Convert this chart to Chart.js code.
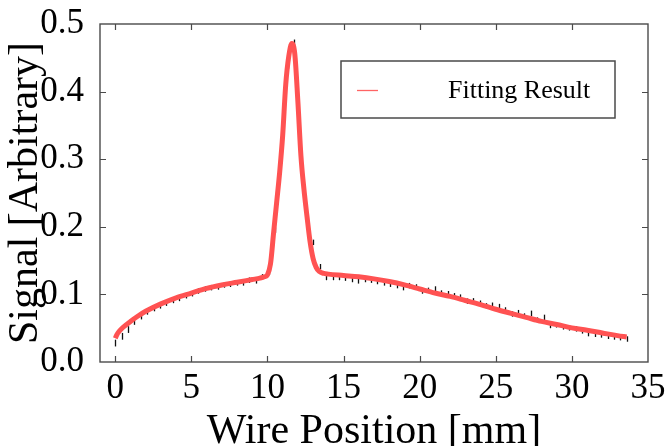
<!DOCTYPE html>
<html>
<head>
<meta charset="utf-8">
<script src="https://cdn.jsdelivr.net/npm/chart.js@4.4.1/dist/chart.umd.min.js"></script>
<style>
  html,body{margin:0;padding:0;background:#fff;}
  #c{display:block;}
</style>
</head>
<body>
<canvas id="c" width="666" height="446"></canvas>
<script>
// measured points (wire position in mm, signal) with error bars
const dataX = [0, 0.42, 0.84, 1.26, 1.68, 2.1, 2.52, 2.94, 3.36, 3.78, 4.2, 4.62, 5.04, 5.46, 5.88, 6.3, 6.72, 7.14, 7.56, 7.98,
  8.4, 8.82, 9.24, 9.66, 10.08, 10.5, 10.92, 11.34, 11.76, 12.18, 12.6, 13.02, 13.44, 13.86, 14.28, 14.7, 15.12, 15.54, 15.96, 16.38,
  16.8, 17.22, 17.64, 18.06, 18.48, 18.9, 19.32, 19.74, 20.16, 20.58, 21.0, 21.42, 21.84, 22.26, 22.68, 23.1, 23.52, 23.94, 24.36, 24.78,
  25.2, 25.62, 26.04, 26.46, 26.88, 27.3, 27.72, 28.14, 28.56, 28.98, 29.4, 29.82, 30.24, 30.66, 31.08, 31.5, 31.92, 32.34, 32.76, 33.18, 33.6];
const dataY = [0.028, 0.038, 0.048, 0.060, 0.068, 0.074, 0.079, 0.083, 0.087, 0.091, 0.094, 0.098, 0.101, 0.105, 0.108, 0.110, 0.111, 0.114, 0.115, 0.117,
  0.117, 0.121, 0.120, 0.126, 0.133, 0.195, 0.297, 0.438, 0.473, 0.305, 0.215, 0.177, 0.141, 0.125, 0.125, 0.125, 0.124, 0.122, 0.120, 0.122,
  0.121, 0.119, 0.117, 0.115, 0.113, 0.110, 0.113, 0.111, 0.105, 0.106, 0.108, 0.102, 0.101, 0.098, 0.096, 0.090, 0.0905, 0.087, 0.083, 0.084,
  0.082, 0.077, 0.071, 0.073, 0.068, 0.072, 0.062, 0.066, 0.054, 0.055, 0.052, 0.0505, 0.049, 0.046, 0.042, 0.041, 0.040, 0.038, 0.037, 0.036, 0.034];
const dataErr = [0.005, 0.005, 0.005, 0.005, 0.005, 0.004, 0.004, 0.004, 0.004, 0.004, 0.004, 0.004, 0.004, 0.004, 0.004, 0.004, 0.004, 0.004, 0.004, 0.004,
  0.004, 0.004, 0.004, 0.004, 0.004, 0.004, 0.004, 0.004, 0.004, 0.004, 0.004, 0.004, 0.004, 0.004, 0.004, 0.004, 0.004, 0.004, 0.004, 0.004,
  0.004, 0.004, 0.004, 0.004, 0.004, 0.004, 0.004, 0.004, 0.004, 0.004, 0.004, 0.004, 0.004, 0.004, 0.004, 0.004, 0.004, 0.004, 0.004, 0.004,
  0.004, 0.004, 0.004, 0.004, 0.004, 0.004, 0.004, 0.004, 0.004, 0.004, 0.004, 0.004, 0.004, 0.004, 0.004, 0.004, 0.004, 0.004, 0.004, 0.004, 0.004];

// fitted curve
const fitX = [0, 0.1, 0.25, 0.5, 1, 1.5, 2, 3, 4, 5, 6, 7, 8, 9, 9.5, 9.8, 10.0, 10.2, 10.4, 10.6, 10.8, 11.0, 11.2, 11.4, 11.6,
  11.8, 12.0, 12.2, 12.4, 12.6, 12.8, 13.0, 13.2, 13.4, 13.7, 14, 15, 16, 17, 18, 19, 20, 21, 22, 23, 24, 25, 26, 27, 28, 29, 30, 31, 32, 33, 33.6];
const fitY = [0.035, 0.040, 0.045, 0.051, 0.060, 0.068, 0.075, 0.086, 0.095, 0.102, 0.109, 0.114, 0.118, 0.122, 0.124, 0.126, 0.129, 0.145, 0.190, 0.235, 0.280, 0.335, 0.410, 0.452, 0.471,
  0.455, 0.385, 0.305, 0.255, 0.215, 0.178, 0.153, 0.140, 0.134, 0.131, 0.130, 0.128, 0.126, 0.123, 0.119, 0.114, 0.108, 0.102, 0.097, 0.091, 0.085, 0.078, 0.072, 0.066, 0.060, 0.0555, 0.0505, 0.047, 0.043, 0.039, 0.037];

const xTickLabels = [0, 5, 10, 15, 20, 25, 30, 35];
const yTickLabels = ['0.0', '0.1', '0.2', '0.3', '0.4', '0.5'];
const legendText = 'Fitting Result';

const SERIF = '"Liberation Serif", "Times New Roman", serif';
const RED = 'rgb(255,82,82)';
const FRAME = '#4a4a4a';

const isTenth = v => Math.abs(v*10 - Math.round(v*10)) < 1e-6;

// error bars under the fit line
const errorBars = {
  id: 'errorBars',
  beforeDatasetsDraw(chart){
    const {ctx, scales:{x, y}} = chart;
    ctx.save();
    ctx.strokeStyle = '#111';
    ctx.lineWidth = 1.3;
    dataX.forEach((v,i)=>{
      const px = Math.round(x.getPixelForValue(v)) + 0.5;
      ctx.beginPath();
      ctx.moveTo(px, y.getPixelForValue(dataY[i] - dataErr[i]));
      ctx.lineTo(px, y.getPixelForValue(dataY[i] + dataErr[i]));
      ctx.stroke();
    });
    ctx.restore();
  }
};

// Mathematica style frame: ticks inside on all four sides, plus the legend box
const frame = {
  id: 'frame',
  afterDraw(chart){
    const {ctx, chartArea:a, scales:{x, y}} = chart;
    ctx.save();
    ctx.strokeStyle = FRAME;
    ctx.lineWidth = 1.4;
    ctx.strokeRect(a.left, a.top, a.right - a.left, a.bottom - a.top);
    ctx.lineWidth = 1.2;
    ctx.beginPath();
    x.ticks.forEach(t=>{
      if (t.value <= x.min || t.value >= x.max) return;
      const px = Math.round(x.getPixelForValue(t.value)) + 0.5;
      const len = xTickLabels.includes(t.value) ? 6 : 3.5;
      ctx.moveTo(px, a.bottom); ctx.lineTo(px, a.bottom - len);
      ctx.moveTo(px, a.top); ctx.lineTo(px, a.top + len);
    });
    y.ticks.forEach(t=>{
      if (t.value <= y.min + 1e-9 || t.value >= y.max - 1e-9) return;
      const py = Math.round(y.getPixelForValue(t.value)) + 0.5;
      const len = isTenth(t.value) ? 6 : 3.5;
      ctx.moveTo(a.left, py); ctx.lineTo(a.left + len, py);
      ctx.moveTo(a.right, py); ctx.lineTo(a.right - len, py);
    });
    ctx.stroke();

    const bx = a.right - 307, by = a.top + 37, bw = 274, bh = 57;
    ctx.fillStyle = '#fff';
    ctx.fillRect(bx, by, bw, bh);
    ctx.strokeStyle = FRAME;
    ctx.lineWidth = 1.5;
    ctx.strokeRect(bx, by, bw, bh);
    ctx.strokeStyle = 'rgb(255,100,100)';
    ctx.lineWidth = 1.3;
    ctx.beginPath();
    ctx.moveTo(bx + 16, by + 29.5); ctx.lineTo(bx + 37, by + 29.5);
    ctx.stroke();
    ctx.fillStyle = '#000';
    ctx.font = '26px ' + SERIF;
    ctx.textBaseline = 'alphabetic';
    ctx.fillText(legendText, bx + 107, by + 37);
    ctx.restore();
  }
};

new Chart(document.getElementById('c'), {
  type: 'scatter',
  data: {
    datasets: [
      {
        type: 'line',
        label: legendText,
        data: fitX.map((v,i)=>({x:v, y:fitY[i]})),
        borderColor: RED,
        borderWidth: 5,
        pointRadius: 0,
        fill: false,
        cubicInterpolationMode: 'monotone',
        order: 0
      },
      {
        label: 'Data',
        data: dataX.map((v,i)=>({x:v, y:dataY[i]})),
        pointRadius: 0,
        order: 1
      }
    ]
  },
  options: {
    responsive: false,
    animation: false,
    devicePixelRatio: 1,
    layout: { padding: { top: 24, right: 18, left: 0, bottom: 0 } },
    plugins: { legend: { display: false }, tooltip: { enabled: false } },
    scales: {
      x: {
        type: 'linear', min: -1, max: 35,
        grid: { display: false, drawTicks: false },
        border: { display: false },
        ticks: {
          stepSize: 1, autoSkip: false, maxRotation: 0, padding: 6,
          color: '#000', font: { family: SERIF, size: 35 },
          callback: v => xTickLabels.includes(v) ? String(v) : null
        },
        title: { display: true, text: 'Wire Position [mm]', color: '#000', font: { family: SERIF, size: 42 }, padding: { top: 0, bottom: -11 } },
        afterFit: s => { s.height = 84; s.paddingLeft = 0; s.paddingRight = 0; }
      },
      y: {
        min: 0, max: 0.5,
        grid: { display: false, drawTicks: false },
        border: { display: false },
        ticks: {
          stepSize: 0.02, autoSkip: false, padding: 16,
          color: '#000', font: { family: SERIF, size: 35 },
          callback: v => {
            const s = v.toFixed(1);
            return isTenth(v) && yTickLabels.includes(s) ? s : null;
          }
        },
        title: { display: true, text: 'Signal [Arbitrary]', color: '#000', font: { family: SERIF, size: 42 }, padding: { top: 1, bottom: 0 } },
        afterFit: s => { s.width = 100; s.paddingTop = 0; s.paddingBottom = 0; }
      }
    }
  },
  plugins: [errorBars, frame]
});
</script>
</body>
</html>
